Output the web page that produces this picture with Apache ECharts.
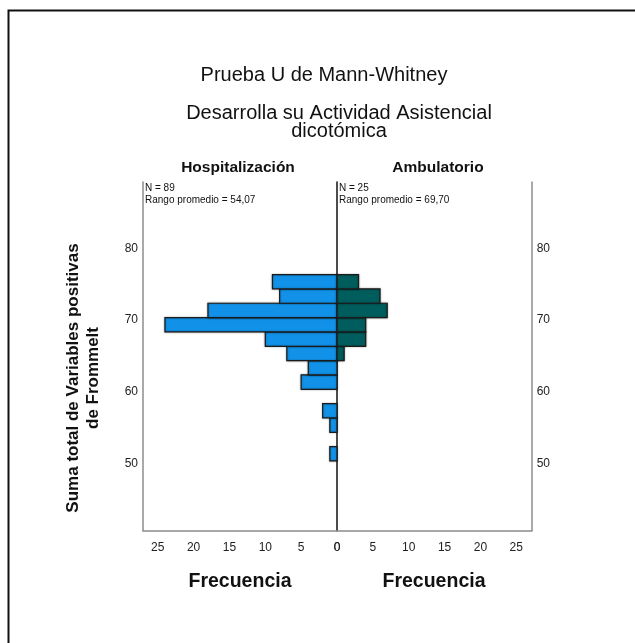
<!DOCTYPE html>
<html>
<head>
<meta charset="utf-8">
<script src="https://cdn.jsdelivr.net/npm/echarts@6/dist/echarts.min.js"></script>
<style>
  html, body { margin: 0; padding: 0; background: #fff; }
  #chart { width: 635px; height: 643px; }
</style>
</head>
<body>
<div id="chart"></div>
<script>
// Histogram bins: lower edge of each bin (width 2) on the score axis
const binStart = [50.33, 52.33, 54.33, 56.33, 58.33, 60.33, 62.33, 64.33, 66.33, 68.33, 70.33, 72.33, 74.33];
const binWidth = 2;
// Frequencies per bin for each group
const hospitalizacion = [1, 0, 1, 2, 0, 5, 4, 7, 10, 24, 18, 8, 9];
const ambulatorio     = [0, 0, 0, 0, 0, 0, 0, 1, 4, 4, 7, 6, 3];
const groupNames = ['Hospitalización', 'Ambulatorio'];
const groupN = [89, 25];
const meanRank = ['54,07', '69,70'];
const freqTicks = [0, 5, 10, 15, 20, 25];
const scoreTicks = [50, 60, 70, 80];

const FONT = '"Liberation Sans", Arial, sans-serif';
const AXIS_GRAY = '#8c8c8c';

function binData(counts) {
  return counts.map((c, i) => [binStart[i], binStart[i] + binWidth, c]).filter(d => d[2] > 0);
}

function barRenderer(fill) {
  return function (params, api) {
    const start = api.value(0), end = api.value(1), count = api.value(2);
    const a = api.coord([0, start]);
    const b = api.coord([count, end]);
    const x = Math.min(a[0], b[0]), y = Math.min(a[1], b[1]);
    return {
      type: 'rect',
      shape: { x: x, y: y, width: Math.abs(b[0] - a[0]), height: Math.abs(b[1] - a[1]) },
      style: {
        fill: fill, stroke: '#1b1b1b', lineWidth: 1.2,
        shadowBlur: 2, shadowColor: 'rgba(0,0,0,0.35)'
      }
    };
  };
}

const freqLabel = v => (freqTicks.indexOf(Math.round(v * 100) / 100) >= 0 ? String(v) : '');
const scoreLabel = v => (scoreTicks.indexOf(Math.round(v * 100) / 100) >= 0 ? String(v) : '');

const yBase = {
  type: 'value', min: 40.6, max: 89.25, splitNumber: 5,
  splitLine: { show: false }, axisTick: { show: false }
};
const xBase = {
  type: 'value', min: 0, interval: 5, splitLine: { show: false }, axisTick: { show: false },
  axisLine: { show: true, onZero: false, lineStyle: { color: AXIS_GRAY, width: 1.5 } },
  axisLabel: { color: '#222', fontFamily: FONT, fontSize: 12, margin: 11, formatter: freqLabel }
};

const chart = echarts.init(document.getElementById('chart'), null, { renderer: 'canvas' });
chart.setOption({
  animation: false,
  backgroundColor: '#fff',
  grid: [
    { left: 143, right: 298, top: 182, bottom: 112.3 },
    { left: 337, right: 103.3, top: 182, bottom: 112.3 }
  ],
  xAxis: [
    Object.assign({}, xBase, { gridIndex: 0, inverse: true, max: 27.06 }),
    Object.assign({}, xBase, { gridIndex: 1, max: 27.15 })
  ],
  yAxis: [
    Object.assign({}, yBase, {
      gridIndex: 0, position: 'left',
      axisLine: { show: true, onZero: false, lineStyle: { color: AXIS_GRAY, width: 1.5 } },
      axisLabel: { color: '#222', fontFamily: FONT, fontSize: 12, margin: 5, formatter: scoreLabel }
    }),
    Object.assign({}, yBase, {
      gridIndex: 1, position: 'right',
      axisLine: { show: true, onZero: false, lineStyle: { color: AXIS_GRAY, width: 1.5 } },
      axisLabel: { color: '#222', fontFamily: FONT, fontSize: 12, margin: 5, formatter: scoreLabel }
    }),
    Object.assign({}, yBase, {
      gridIndex: 1, position: 'left',
      axisLine: { show: true, onZero: false, lineStyle: { color: '#111', width: 1.5 } },
      axisLabel: { show: false }
    })
  ],
  series: [
    {
      name: groupNames[0], type: 'custom', xAxisIndex: 0, yAxisIndex: 0,
      renderItem: barRenderer('#1192e8'), data: binData(hospitalizacion), z: 1
    },
    {
      name: groupNames[1], type: 'custom', xAxisIndex: 1, yAxisIndex: 1,
      renderItem: barRenderer('#005d5d'), data: binData(ambulatorio), z: 1
    }
  ],
  graphic: [
    // outer frame
    { type: 'polyline', shape: { points: [[8.5, 643], [8.5, 10.5], [635, 10.5]] },
      style: { stroke: '#111', lineWidth: 2, fill: null } },
    { type: 'text', x: 324, y: 75, style: { text: 'Prueba U de Mann-Whitney', font: '20px ' + FONT,
      fill: '#111', textAlign: 'center', textVerticalAlign: 'middle' } },
    { type: 'text', x: 339, y: 122, style: { text: 'Desarrolla su Actividad Asistencial\ndicotómica',
      font: '20px ' + FONT, lineHeight: 18, fill: '#111', textAlign: 'center', textVerticalAlign: 'middle' } },
    { type: 'text', x: 238, y: 168, style: { text: groupNames[0], font: 'bold 15.5px ' + FONT,
      fill: '#111', textAlign: 'center', textVerticalAlign: 'middle' } },
    { type: 'text', x: 438, y: 168, style: { text: groupNames[1], font: 'bold 15.5px ' + FONT,
      fill: '#111', textAlign: 'center', textVerticalAlign: 'middle' } },
    { type: 'text', x: 145, y: 194, style: { text: 'N = ' + groupN[0] + '\nRango promedio = ' + meanRank[0],
      font: '10px ' + FONT, lineHeight: 12, fill: '#111', textAlign: 'left', textVerticalAlign: 'middle' } },
    { type: 'text', x: 339, y: 194, style: { text: 'N = ' + groupN[1] + '\nRango promedio = ' + meanRank[1],
      font: '10px ' + FONT, lineHeight: 12, fill: '#111', textAlign: 'left', textVerticalAlign: 'middle' } },
    { type: 'text', x: 240, y: 582, style: { text: 'Frecuencia', font: 'bold 19.5px ' + FONT,
      fill: '#111', textAlign: 'center', textVerticalAlign: 'middle' } },
    { type: 'text', x: 434, y: 582, style: { text: 'Frecuencia', font: 'bold 19.5px ' + FONT,
      fill: '#111', textAlign: 'center', textVerticalAlign: 'middle' } },
    { type: 'text', x: 83.5, y: 378, rotation: Math.PI / 2,
      style: { text: 'Suma total de Variables positivas\nde Frommelt', font: 'bold 17px ' + FONT, lineHeight: 20,
        fill: '#111', textAlign: 'center', textVerticalAlign: 'middle' } }
  ]
});
</script>
</body>
</html>
